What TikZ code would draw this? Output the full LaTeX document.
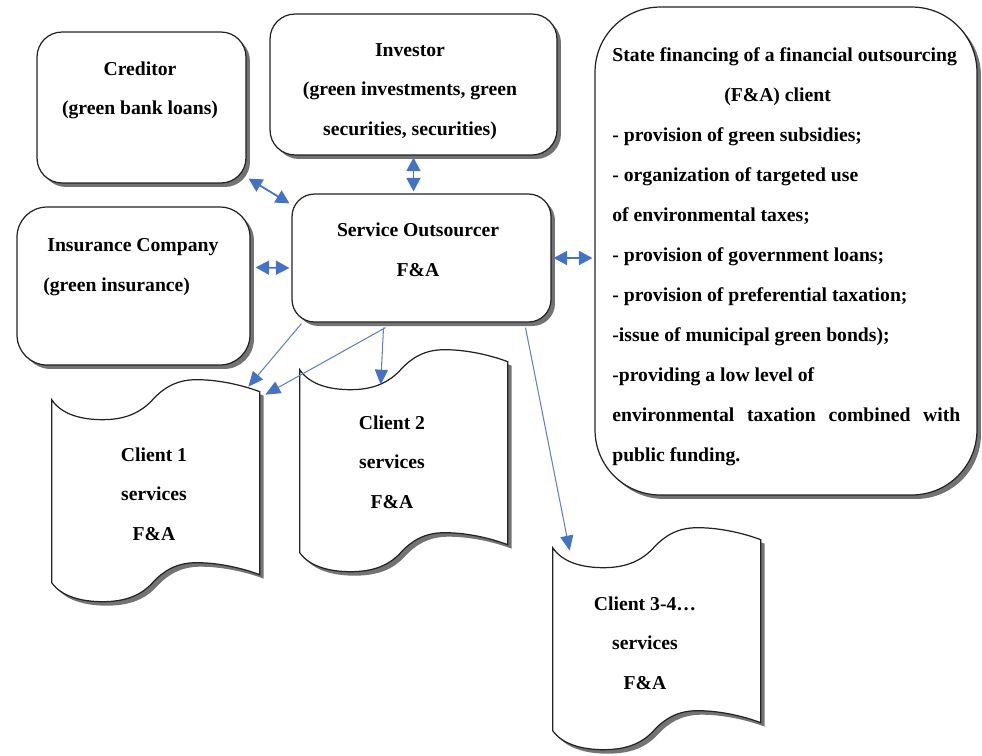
\documentclass[tikz,border=0pt]{standalone}
\usepackage{fontspec}
\setmainfont{Liberation Serif}
\usetikzlibrary{arrows.meta,shadows,calc}
\definecolor{arrowblue}{RGB}{68,114,196}
\definecolor{linkblue}{RGB}{95,130,195}
\definecolor{shade}{RGB}{115,115,115}
\definecolor{edge}{RGB}{35,35,35}
\newcommand\tapeoutline[2]{%
  \path[#1, shift={#2}] (0,0) .. controls (10,15) and (30,20) .. (51,20)
    .. controls (75,20) and (90,12) .. (101,0)
    .. controls (112,-12) and (125,-20) .. (145,-20)
    .. controls (170,-20) and (195,-13) .. (208,-8)
    -- (208,175)
    .. controls (195,170) and (170,163) .. (145,163)
    .. controls (125,163) and (112,171) .. (101,183)
    .. controls (90,195) and (75,202) .. (51,202)
    .. controls (30,202) and (10,197) .. (0,183) -- cycle;}
\newcommand\tapeshape[1]{%
  \tapeoutline{fill=shade}{($(#1.north west)+(4,4)$)}%
  \tapeoutline{draw=edge, line width=0.7pt, fill=white}{(#1.north west)}}
\begin{document}
\begin{tikzpicture}[x=0.02cm,y=-0.02cm,
  box/.style={draw=edge, line width=0.7pt, fill=white, inner sep=0pt,
    drop shadow={shadow xshift=0.08cm, shadow yshift=-0.08cm, fill=shade, opacity=1}},
  txt/.style={font=\fontsize{11.2}{22.5}\selectfont\bfseries, align=center, inner sep=0pt},
  tapearea/.style={inner sep=0pt, minimum width=4.16cm, minimum height=3.66cm},
  link/.style={draw=linkblue, line width=0.6pt,
    -{Triangle[length=0.3cm,width=0.26cm,color=arrowblue,fill=arrowblue]}},
  dbl/.style={draw=arrowblue, line width=1pt,
    {Triangle[length=0.27cm,width=0.28cm]}-{Triangle[length=0.27cm,width=0.28cm]}}
]
\useasboundingbox (0,0) rectangle (982,755);

% boxes
\node[box, rounded corners=0.5cm, minimum width=4.18cm, minimum height=3.02cm] (cred) at (141.5,107.5) {};
\node[box, rounded corners=0.5cm, minimum width=5.74cm, minimum height=2.82cm] (inv) at (413.5,84.5) {};
\node[box, rounded corners=1.3cm, minimum width=7.64cm, minimum height=9.76cm] (state) at (786,251) {};
\node[box, rounded corners=0.6cm, minimum width=4.66cm, minimum height=3.16cm] (ins) at (133.5,286) {};
\node[box, rounded corners=0.45cm, minimum width=5.18cm, minimum height=2.56cm] (out) at (421.5,258) {};

% client areas
\node[tapearea] (c1) at (156,491.5) {};
\node[tapearea] (c2) at (404,461.5) {};
\node[tapearea] (c3) at (657,639.5) {};
\tapeshape{c1}
\tapeshape{c2}
\tapeshape{c3}

% texts
\node[txt] (credt) at (140,90.5) {Creditor\\(green bank loans)};
\node[txt] (invt) at (410,91.5) {Investor\\(green investments, green\\securities, securities)};
\node[txt, align=left, anchor=west] (inst) at (43,267) {\hspace*{0.08cm}Insurance Company\\(green insurance)};
\node[txt] (outt) at (418,249.5) {Service Outsourcer\\F\&A};
\node[txt] (c1t) at (154,494) {Client 1\\services\\F\&A};
\node[txt] (c2t) at (392,462) {Client 2\\services\\F\&A};
\node[txt] (c3t) at (645,643) {Client 3-4…\\services\\F\&A};
\node[txt, font=\fontsize{11.2}{22.76}\selectfont\bfseries, align=left, anchor=west] (statet) at (612,257) {%
State financing of a financial outsourcing\\
\makebox[6.96cm][c]{(F\&A) client\hspace*{0.35cm}}\\
- provision of green subsidies;\\
- organization of targeted use\\
of environmental taxes;\\
- provision of government loans;\\
- provision of preferential taxation;\\
-issue of municipal green bonds);\\
-providing a low level of\\
\makebox[6.96cm][s]{environmental taxation combined with}\\
public funding.};

% connectors
\draw[dbl] ($(cred.south east)+(2,-5)$) -- ($(out.north west)+(-2,10)$);
\draw[dbl] ($(inv.south)+(0,2)$) -- ($(inv.south |- out.north)+(0,-2)$);
\draw[dbl] ($(ins.north east)+(5,61)$) -- ($(out.west)+(-2,10)$);
\draw[dbl] ($(out.east)+(2,0)$) -- ($(state.west |- out.east)+(-2,0)$);

\draw[link] ($(out.south west)+(10,1)$) -- ($(c1.north east)+(-12,-13)$);
\draw[link] ($(out.south)+(-36,5)$) -- ($(c1.north east)+(5,-5)$);
\draw[link] ($(out.south)+(-38,5)$) -- ($(c2.north west)+(81,15)$);
\draw[link] ($(out.south)+(104,5)$) -- ($(c3.north west)+(17,3)$);
\end{tikzpicture}
\end{document}
